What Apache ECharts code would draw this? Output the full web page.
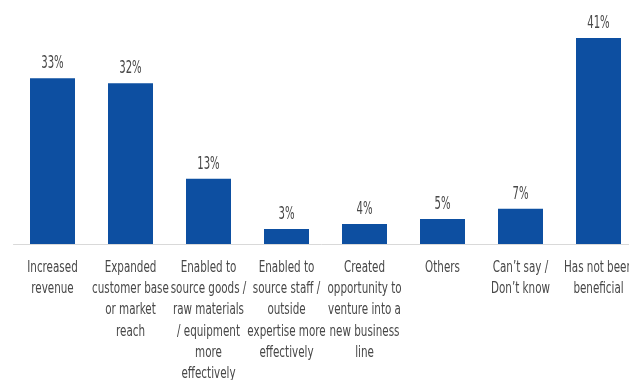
<!DOCTYPE html>
<html>
<head>
<meta charset="utf-8">
<script src="https://cdn.jsdelivr.net/npm/echarts@6/dist/echarts.min.js"></script>
<style>
  html, body { margin: 0; padding: 0; background: #ffffff; }
  #chart { width: 629px; height: 380px; }
</style>
</head>
<body>
<div id="chart"></div>
<script>
// Survey responses: perceived benefits
const categories = [
  'Increased\nrevenue',
  'Expanded\ncustomer base\nor market\nreach',
  'Enabled to\nsource goods /\nraw materials\n/ equipment\nmore\neffectively',
  'Enabled to\nsource staff /\noutside\nexpertise more\neffectively',
  'Created\nopportunity to\nventure into a\nnew business\nline',
  'Others',
  'Can\u2019t say /\nDon\u2019t know',
  'Has not been\nbeneficial'
];
const shares = [33, 32, 13, 3, 4, 5, 7, 41];

const FONT = '"DejaVu Sans Condensed", "DejaVu Sans", sans-serif';
const TEXT_COLOR = '#474747';

// Narrow text: category names and value labels drawn as horizontally squeezed text
function renderLabels(params, api) {
  const idx = api.value(0);
  const val = api.value(1);
  const base = api.coord([idx, 0]);
  const top = api.coord([idx, val]);
  return {
    type: 'group',
    children: [
      {
        type: 'text',
        x: base[0],
        y: base[1] + 13,
        scaleX: 0.72,
        style: {
          text: categories[idx],
          textAlign: 'center',
          textVerticalAlign: 'top',
          fontFamily: FONT,
          fontSize: 16,
          lineHeight: 21.3,
          fill: TEXT_COLOR
        }
      },
      {
        type: 'text',
        x: top[0],
        y: top[1] - 6,
        scaleX: 0.66,
        style: {
          text: val + '%',
          textAlign: 'center',
          textVerticalAlign: 'bottom',
          fontFamily: FONT,
          fontSize: 17,
          fill: TEXT_COLOR
        }
      }
    ]
  };
}

const chart = echarts.init(document.getElementById('chart'), null, { renderer: 'canvas' });
chart.setOption({
  animation: false,
  grid: { left: 13.5, top: 18, width: 624, height: 226, containLabel: false, outerBoundsMode: 'none' },
  xAxis: {
    type: 'category',
    data: categories,
    axisLine: { lineStyle: { color: '#d9d9d9', width: 1 } },
    axisTick: { show: false },
    axisLabel: { show: false }
  },
  yAxis: {
    type: 'value',
    min: 0,
    max: 45,
    show: false,
    splitLine: { show: false }
  },
  series: [
    {
      type: 'bar',
      data: shares,
      barWidth: 45,
      itemStyle: { color: '#0d4fa1' }
    },
    {
      type: 'custom',
      clip: false,
      silent: true,
      data: shares.map((v, i) => [i, v]),
      renderItem: renderLabels
    }
  ]
});
</script>
</body>
</html>
